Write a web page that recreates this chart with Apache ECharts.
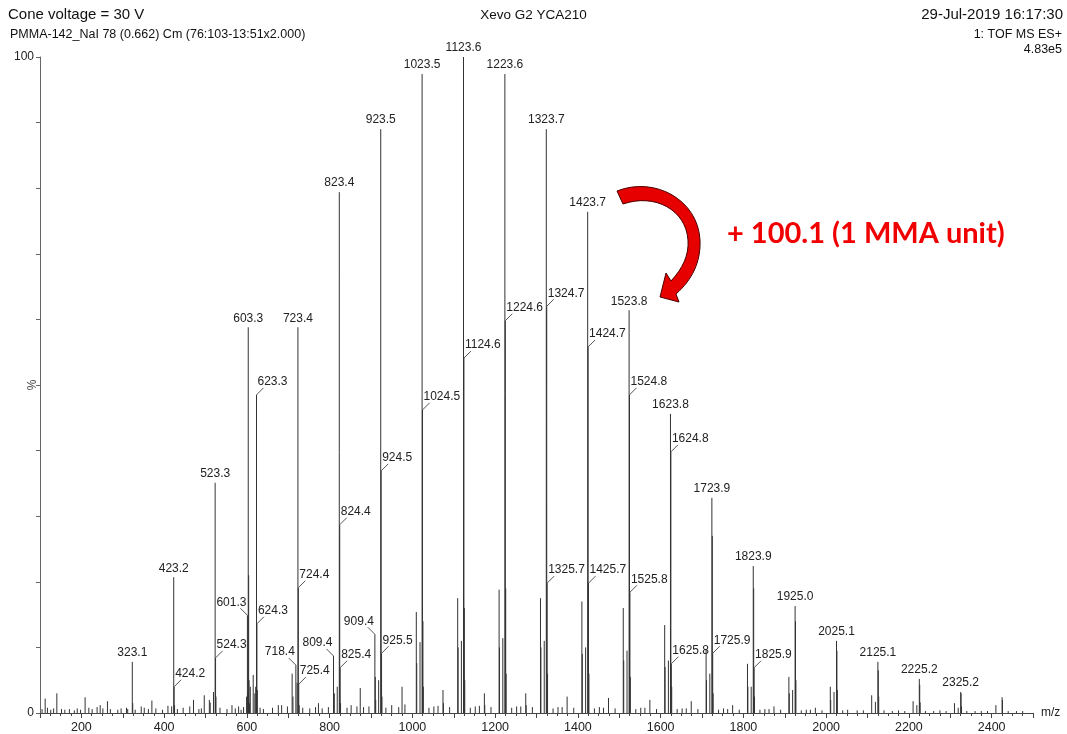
<!DOCTYPE html>
<html>
<head>
<meta charset="utf-8">
<script src="https://cdn.jsdelivr.net/npm/echarts@6/dist/echarts.min.js"></script>
<style>
  html, body { margin: 0; padding: 0; background: #fff; }
  #chart { width: 1067px; height: 734px; }
</style>
</head>
<body>
<div id="chart"></div>
<script>
// Labelled peaks: m/z and relative intensity (%)
const labelMz = [323.1, 423.2, 424.2, 523.3, 524.3, 601.3, 603.3, 623.3, 624.3, 718.4,
  723.4, 724.4, 725.4, 809.4, 823.4, 824.4, 825.4, 909.4, 923.5, 924.5,
  925.5, 1023.5, 1024.5, 1123.6, 1124.6, 1223.6, 1224.6, 1323.7, 1324.7, 1325.7,
  1423.7, 1424.7, 1425.7, 1523.8, 1524.8, 1525.8, 1623.8, 1624.8, 1625.8, 1723.9,
  1725.9, 1823.9, 1825.9, 1925.0, 2025.1, 2125.1, 2225.2, 2325.2];
const labelInt = [7.8, 20.7, 4.0, 35.1, 8.4, 14.9, 58.8, 48.5, 13.6, 7.3,
  58.8, 19.1, 4.4, 8.7, 79.4, 28.7, 6.9, 12.0, 89.0, 36.9,
  9.1, 97.4, 46.2, 100, 54.1, 97.4, 59.8, 89.0, 62.0, 19.8,
  76.4, 55.8, 19.8, 61.4, 48.5, 18.4, 45.6, 39.8, 7.5, 32.8,
  9.1, 22.4, 6.9, 16.3, 11.0, 7.8, 5.2, 3.2];
// Where each peak label sits: T = above, R = up-right with leader, L = up-left with leader
const labelPlacement = ['T', 'T', 'R', 'T', 'R', 'L', 'T', 'R', 'R', 'L',
  'T', 'R', 'R', 'L', 'T', 'R', 'R', 'L', 'T', 'R',
  'R', 'T', 'R', 'T', 'R', 'T', 'R', 'T', 'R', 'R',
  'T', 'R', 'R', 'T', 'R', 'R', 'T', 'R', 'R', 'T',
  'R', 'T', 'R', 'T', 'T', 'T', 'T', 'T'];

// Unlabelled peaks (isotopes, second series, minor ions)
const otherMz = [112.5, 140.7, 209.0, 245.5, 263.0, 309.1, 324.1, 344.6, 370.4, 409.2,
  418.2, 425.2, 471.0, 497.0, 509.3, 511.4, 519.3, 525.3, 564.0, 580.0,
  599.3, 602.3, 604.3, 605.3, 606.3, 608.3, 615.3, 619.3, 621.3, 625.3,
  676.0, 709.4, 711.4, 721.4, 726.4, 773.0, 811.4, 818.4, 826.4, 874.0,
  910.4, 911.4, 918.5, 926.5, 975.0, 1009.5, 1010.5, 1018.5, 1025.5, 1026.5,
  1074.0, 1075.0, 1109.5, 1110.5, 1118.5, 1125.6, 1126.6, 1174.0, 1175.0, 1209.6,
  1210.6, 1218.6, 1225.6, 1226.6, 1274.0, 1275.0, 1309.6, 1310.7, 1318.7, 1326.7,
  1374.0, 1409.7, 1410.7, 1418.7, 1426.7, 1474.0, 1509.7, 1510.8, 1518.8, 1526.8,
  1574.0, 1609.8, 1610.8, 1618.8, 1626.8, 1674.0, 1709.9, 1710.9, 1718.9, 1724.9,
  1726.9, 1774.0, 1809.9, 1810.9, 1818.9, 1824.9, 1826.9, 1874.0, 1910.0, 1911.0,
  1919.0, 1926.0, 1927.0, 1974.0, 2010.1, 2011.1, 2019.1, 2026.1, 2027.1, 2110.1,
  2119.1, 2126.1, 2127.1, 2210.2, 2219.2, 2226.2, 2227.2, 2310.2, 2319.2, 2326.2,
  2327.2, 2410.3, 2425.3, 2426.3];
const otherInt = [2.2, 3.0, 2.4, 1.2, 1.8, 0.8, 1.5, 1.0, 1.9, 1.1,
  1.0, 1.2, 2.0, 2.7, 2.0, 1.6, 3.2, 2.5, 1.2, 1.0,
  2.5, 3.0, 21.0, 5.0, 1.5, 4.0, 5.8, 3.0, 4.0, 3.5,
  1.2, 6.0, 2.5, 4.6, 1.2, 1.5, 3.0, 4.0, 1.5, 3.8,
  5.5, 2.0, 5.0, 2.5, 4.0, 15.4, 7.6, 10.8, 14.0, 4.0,
  3.5, 1.5, 17.5, 10.0, 11.0, 16.0, 5.0, 3.0, 1.2, 18.8,
  10.0, 11.4, 19.0, 6.0, 3.0, 1.2, 17.5, 10.0, 11.0, 6.0,
  2.5, 17.0, 9.0, 10.0, 6.0, 2.3, 16.0, 8.0, 9.5, 5.5,
  2.0, 13.4, 7.0, 8.0, 4.0, 1.8, 9.6, 5.0, 6.0, 27.0,
  3.0, 1.2, 7.5, 4.0, 4.0, 19.0, 2.5, 1.0, 5.5, 3.0,
  3.5, 14.0, 5.0, 0.8, 4.0, 2.0, 3.2, 9.5, 3.5, 2.7,
  1.7, 6.5, 2.5, 1.8, 1.2, 4.3, 1.6, 1.5, 0.8, 3.0,
  1.0, 1.2, 2.4, 2.0];

// Baseline chemical noise
const noiseMz = [105, 118, 126, 133, 152, 160, 171, 183, 190, 198, 218, 226, 238, 252, 270,
  288, 296, 312, 330, 352, 362, 380, 396, 432, 446, 462, 484, 490, 535, 552,
  572, 586, 592, 632, 640, 662, 684, 698, 735, 752, 766, 782, 797, 842, 852,
  866, 882, 895, 936, 950, 967, 982, 1040, 1052, 1062, 1090, 1140, 1152, 1162, 1190,
  1240, 1252, 1262, 1290, 1340, 1352, 1362, 1390, 1440, 1452, 1462, 1490, 1540, 1552, 1562,
  1590, 1640, 1652, 1662, 1690, 1740, 1752, 1762, 1790, 1840, 1852, 1862, 1890, 1940, 1952,
  1962, 1990, 2040, 2052, 2075, 2090, 2140, 2160, 2175, 2190, 2240, 2260, 2275, 2290, 2340,
  2360, 2375, 2390, 2440, 2460, 2475];
const noiseInt = [0.6, 0.8, 0.5, 0.7, 0.6, 0.5, 0.6, 0.4, 0.7, 0.5, 0.8, 0.6, 0.9, 0.7, 0.6,
  0.5, 0.7, 0.6, 0.5, 0.8, 0.6, 0.7, 0.5, 0.6, 0.8, 1.0, 0.6, 0.7, 0.8, 0.6,
  0.7, 0.5, 0.9, 0.8, 0.6, 0.8, 1.2, 1.0, 0.8, 0.7, 0.9, 0.7, 0.9, 0.8, 1.2,
  1.0, 0.9, 1.0, 0.8, 1.2, 0.9, 1.3, 0.8, 1.0, 1.1, 0.9, 0.8, 1.0, 1.1, 0.9,
  0.8, 1.0, 1.0, 0.9, 0.7, 0.9, 0.9, 0.8, 0.7, 0.9, 0.8, 0.7, 0.6, 0.8, 0.8,
  0.6, 0.6, 0.7, 0.7, 0.6, 0.5, 0.7, 0.6, 0.5, 0.5, 0.6, 0.6, 0.5, 0.4, 0.5,
  0.5, 0.4, 0.4, 0.5, 0.4, 0.4, 0.4, 0.3, 0.4, 0.3, 0.3, 0.3, 0.4, 0.3, 0.3,
  0.3, 0.3, 0.3, 0.3, 0.3, 0.3];

// Axis ticks
const xTickLabels = [200, 400, 600, 800, 1000, 1200, 1400, 1600, 1800, 2000, 2200, 2400];
const yTickLabels = [0, 100];

const FONT = '"Liberation Sans", Arial, sans-serif';
const INK = '#222';

// Curved arrow marking one repeat unit (pixel outline)
const ARROW_PATH = 'M617,191 C655,176 698,200 700,240 C701,262 692,280 676,294 L679,302 L660,297 L666,273 L671,281 C683,268 689,255 688,240 C686,210 655,193 623,204 Z';

const sticks = [];
noiseMz.forEach((m, i) => sticks.push([m, noiseInt[i]]));
otherMz.forEach((m, i) => sticks.push([m, otherInt[i]]));
labelMz.forEach((m, i) => sticks.push([m, labelInt[i]]));

const labelData = labelMz.map((m, i) => [m, labelInt[i]]);

const chart = echarts.init(document.getElementById('chart'), null, { renderer: 'canvas' });

chart.setOption({
  animation: false,
  backgroundColor: '#fff',
  grid: { left: 40, right: 34, top: 57, bottom: 21, containLabel: false, outerBoundsMode: 'none' },
  xAxis: {
    type: 'value',
    min: 100,
    max: 2500,
    interval: 100,
    name: 'm/z',
    nameLocation: 'end',
    nameGap: 8,
    nameTextStyle: { fontFamily: FONT, fontSize: 12, color: INK, verticalAlign: 'middle' },
    axisLine: { show: true, onZero: false, lineStyle: { color: '#444', width: 1 } },
    axisTick: { show: true, length: 5, lineStyle: { color: '#444' } },
    minorTick: { show: true, splitNumber: 4, length: 3, lineStyle: { color: '#444' } },
    splitLine: { show: false },
    minorSplitLine: { show: false },
    axisLabel: {
      margin: 8,
      fontFamily: FONT,
      fontSize: 12.5,
      color: INK,
      formatter: v => (xTickLabels.indexOf(v) >= 0 ? String(v) : '')
    }
  },
  yAxis: {
    type: 'value',
    min: 0,
    max: 100,
    interval: 10,
    axisLine: { show: true, lineStyle: { color: '#666', width: 1 } },
    axisTick: { show: true, length: 4, lineStyle: { color: '#666' } },
    splitLine: { show: false },
    axisLabel: {
      margin: 6,
      fontFamily: FONT,
      fontSize: 12,
      color: INK,
      formatter: v => (yTickLabels.indexOf(v) >= 0 ? String(v) : '')
    }
  },
  series: [
    {
      // spectrum sticks
      type: 'custom',
      clip: true,
      silent: true,
      z: 2,
      encode: { x: 0, y: 1 },
      data: sticks,
      renderItem: (params, api) => {
        const top = api.coord([api.value(0), api.value(1)]);
        const base = api.coord([api.value(0), 0]);
        return {
          type: 'line',
          shape: { x1: top[0], y1: base[1], x2: top[0], y2: top[1] },
          style: { stroke: '#333', lineWidth: 1 }
        };
      }
    },
    {
      // peak annotations
      type: 'custom',
      clip: false,
      silent: true,
      z: 3,
      encode: { x: 0, y: 1 },
      data: labelData,
      renderItem: (params, api) => {
        const mz = api.value(0);
        const p = api.coord([mz, api.value(1)]);
        const side = labelPlacement[params.dataIndex];
        const text = mz.toFixed(1);
        const font = '12px ' + FONT;
        if (side === 'T') {
          return {
            type: 'text',
            x: p[0], y: p[1] - 3,
            style: { text, font, fill: INK, align: 'center', verticalAlign: 'bottom' }
          };
        }
        const dir = side === 'R' ? 1 : -1;
        return {
          type: 'group',
          children: [
            {
              type: 'line',
              shape: { x1: p[0], y1: p[1], x2: p[0] + dir * 7, y2: p[1] - 7 },
              style: { stroke: '#555', lineWidth: 1 }
            },
            {
              type: 'text',
              x: p[0] + dir * 1, y: p[1] - 7,
              style: { text, font, fill: INK, align: side === 'R' ? 'left' : 'right', verticalAlign: 'bottom' }
            }
          ]
        };
      }
    },
    {
      // repeat-unit arrow
      type: 'custom',
      coordinateSystem: 'none',
      silent: true,
      z: 10,
      data: [0],
      renderItem: () => ({
        type: 'path',
        shape: { pathData: ARROW_PATH },
        style: { fill: '#e60000', stroke: '#4a0000', lineWidth: 1 }
      })
    }
  ],
  graphic: [
    { type: 'text', left: 8, top: 7, style: { text: 'Cone voltage = 30 V', font: '15px ' + FONT, fill: '#111' } },
    { type: 'text', left: 10, top: 28, style: { text: 'PMMA-142_NaI 78 (0.662) Cm (76:103-13:51x2.000)', font: '12.5px ' + FONT, fill: '#111' } },
    { type: 'text', left: 'center', top: 8, style: { text: 'Xevo G2 YCA210', font: '13.5px ' + FONT, fill: '#111' } },
    { type: 'text', right: 4, top: 7, style: { text: '29-Jul-2019 16:17:30', font: '15px ' + FONT, fill: '#111' } },
    { type: 'text', right: 5, top: 28, style: { text: '1: TOF MS ES+', font: '12.5px ' + FONT, fill: '#111' } },
    { type: 'text', right: 5, top: 43, style: { text: '4.83e5', font: '12.5px ' + FONT, fill: '#111' } },
    // y-axis unit, rotated to read bottom-up
    {
      type: 'text', x: 33, y: 385, rotation: Math.PI / 2,
      style: { text: '%', font: '12px ' + FONT, fill: '#444', textAlign: 'center', textVerticalAlign: 'middle' }
    },
    {
      type: 'text', z: 10, left: 727, top: 219,
      style: { text: '+ 100.1 (1 MMA unit)', font: 'bold 29px Lato, "Open Sans", sans-serif', fill: '#f00000' }
    }
  ]
});
</script>
</body>
</html>
